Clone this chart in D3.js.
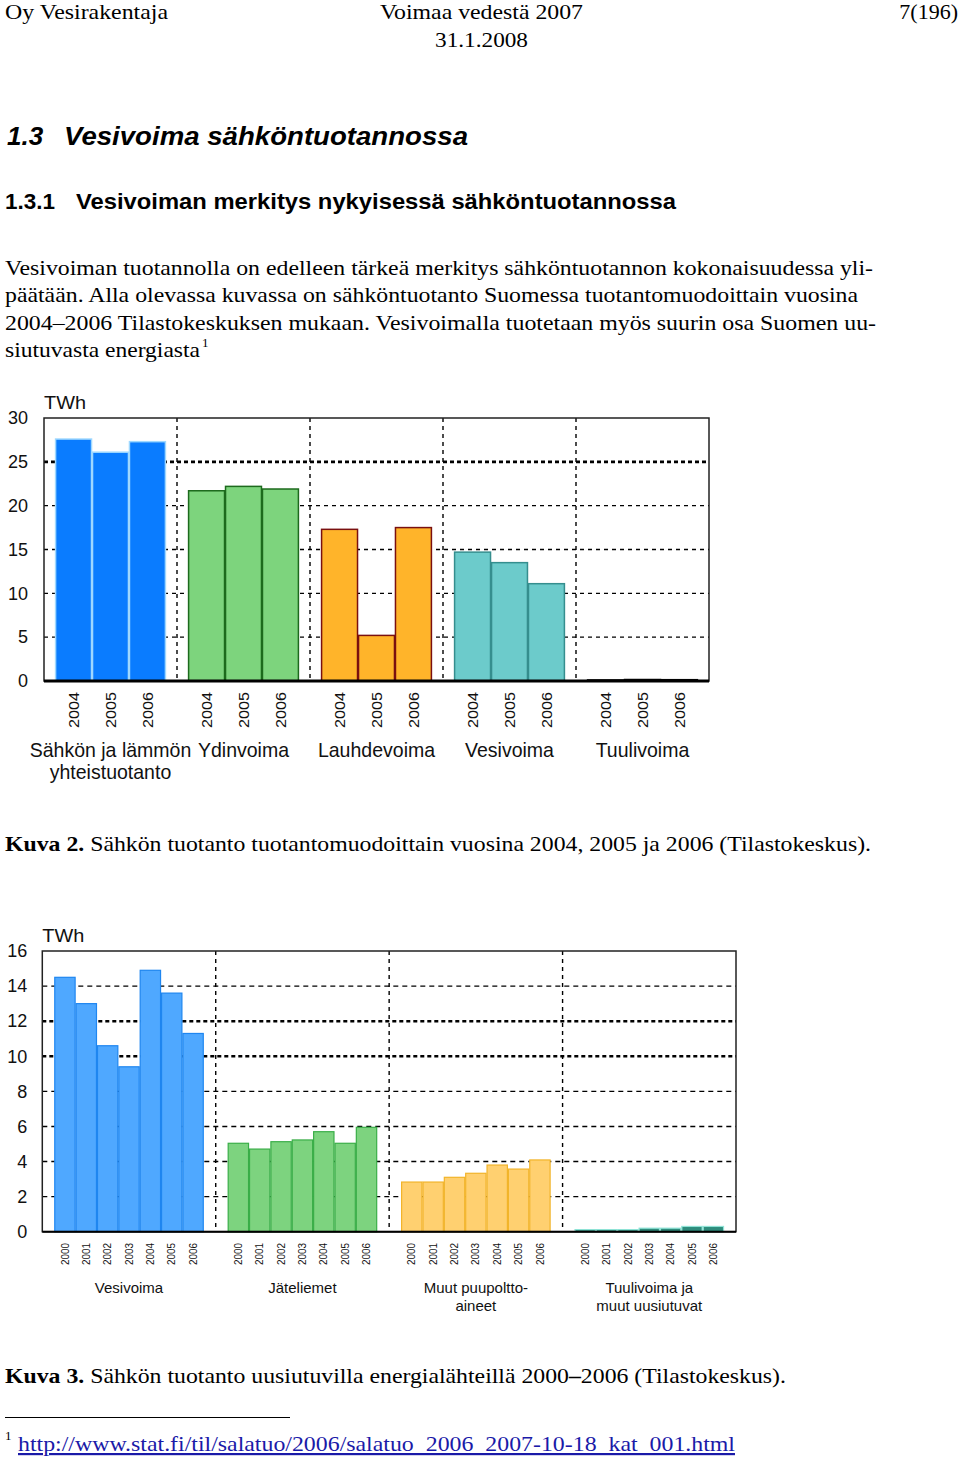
<!DOCTYPE html>
<html><head><meta charset="utf-8">
<script src="https://cdn.jsdelivr.net/npm/d3@7"></script>
<style>body{margin:0;background:#fff}svg{display:block}</style>
</head><body>
<script>
// ---- Data: Kuva 2 ----
const cats1 = [["Sähkön ja lämmön","yhteistuotanto"],["Ydinvoima"],["Lauhdevoima"],["Vesivoima"],["Tuulivoima"]];
const years1 = ["2004","2005","2006"];
const chp1 = [27.6, 26.1, 27.3];
const nuclear1 = [21.7, 22.2, 21.9];
const condensing1 = [17.3, 5.2, 17.5];
const hydro1 = [14.7, 13.5, 11.1];
const wind1 = [0.12, 0.17, 0.15];
const yTicks1 = [0,5,10,15,20,25,30];

// ---- Data: Kuva 3 ----
const cats2 = [["Vesivoima"],["Jäteliemet"],["Muut puupoltto-","aineet"],["Tuulivoima ja","muut uusiutuvat"]];
const years2 = ["2000","2001","2002","2003","2004","2005","2006"];
const hydro2 = [14.5, 13.0, 10.6, 9.4, 14.9, 13.6, 11.3];
const blackLiquor2 = [5.04, 4.71, 5.13, 5.23, 5.70, 5.04, 5.95];
const otherWood2 = [2.83, 2.83, 3.10, 3.33, 3.80, 3.57, 4.09];
const windOther2 = [0.12, 0.12, 0.12, 0.2, 0.2, 0.3, 0.3];
const yTicks2 = [0,2,4,6,8,10,12,14,16];

const W = 960, H = 1459;
const svg = d3.select("body").append("svg").attr("width", W).attr("height", H);
const serif = "'Liberation Serif','Times New Roman',serif";
const sans = "'Liberation Sans',Arial,sans-serif";

// ---- page text ----
function t(x,y,str,opt={}){
  const e = svg.append("text").attr("x",x).attr("y",y).text(str)
    .attr("font-family",opt.family||serif).attr("font-size",opt.size||22)
    .attr("fill",opt.fill||"#000");
  if(opt.anchor) e.attr("text-anchor",opt.anchor);
  if(opt.weight) e.attr("font-weight",opt.weight);
  if(opt.style) e.attr("font-style",opt.style);
  if(opt.len) e.attr("textLength",opt.len).attr("lengthAdjust",opt.adj||"spacingAndGlyphs");
  return e;
}
t(5,19,"Oy Vesirakentaja",{len:163});
t(380,19,"Voimaa vedestä 2007",{len:203});
t(958,19,"7(196)",{anchor:"end"});
t(435,47,"31.1.2008",{len:93});

t(7,145,"1.3",{family:sans,size:26,weight:"bold",style:"italic"});
t(64,145,"Vesivoima sähköntuotannossa",{family:sans,size:26,weight:"bold",style:"italic",len:404});
t(5,209,"1.3.1",{family:sans,size:22,weight:"bold",len:50});
t(76,209,"Vesivoiman merkitys nykyisessä sähköntuotannossa",{family:sans,size:22,weight:"bold",len:600});

t(5,275,"Vesivoiman tuotannolla on edelleen tärkeä merkitys sähköntuotannon kokonaisuudessa yli-",{len:868});
t(5,302,"päätään. Alla olevassa kuvassa on sähköntuotanto Suomessa tuotantomuodoittain vuosina",{len:853});
t(5,330,"2004–2006 Tilastokeskuksen mukaan. Vesivoimalla tuotetaan myös suurin osa Suomen uu-",{len:871});
t(5,357,"siutuvasta energiasta",{len:195});
t(202,347,"1",{size:13});

const cap2 = svg.append("text").attr("x",5).attr("y",851).attr("font-family",serif).attr("font-size",22)
  .attr("textLength",866).attr("lengthAdjust","spacingAndGlyphs");
cap2.append("tspan").attr("font-weight","bold").text("Kuva 2.");
cap2.append("tspan").text(" Sähkön tuotanto tuotantomuodoittain vuosina 2004, 2005 ja 2006 (Tilastokeskus).");
const cap3 = svg.append("text").attr("x",5).attr("y",1383).attr("font-family",serif).attr("font-size",22)
  .attr("textLength",781).attr("lengthAdjust","spacingAndGlyphs");
cap3.append("tspan").attr("font-weight","bold").text("Kuva 3.");
cap3.append("tspan").text(" Sähkön tuotanto uusiutuvilla energialähteillä 2000");
cap3.append("tspan").attr("font-weight","bold").text("–");
cap3.append("tspan").text("2006 (Tilastokeskus).");

svg.append("line").attr("x1",5).attr("x2",290).attr("y1",1417.5).attr("y2",1417.5).attr("stroke","#000").attr("stroke-width",1);
t(5,1440,"1",{size:13});
t(18,1451,"http://www.stat.fi/til/salatuo/2006/salatuo_2006_2007-10-18_kat_001.html",{fill:"#1a1aa8",len:717})
  .attr("text-decoration","underline");

// ---- generic chart ----
function chart(cfg){
  const g = svg.append("g");
  const x = d3.scaleBand().domain(d3.range(cfg.cats.length)).range([cfg.left,cfg.right]).padding(0);
  const xi = d3.scaleBand().domain(cfg.years).range([0,x.bandwidth()]).paddingInner(0).paddingOuter(cfg.outer);
  const y = d3.scaleLinear().domain([0,cfg.max]).range([cfg.bottom,cfg.top]);

  cfg.ticks.filter(v=>v>0 && v<cfg.max).forEach(v=>{
    const thick = cfg.thick.includes(v);
    g.append("line").attr("x1",cfg.left).attr("x2",cfg.right).attr("y1",y(v)).attr("y2",y(v))
      .attr("stroke","#000").attr("stroke-width",thick?2.6:1.4)
      .attr("stroke-dasharray",thick?"4,3":cfg.dash);
  });
  d3.range(1,cfg.cats.length).forEach(i=>{
    g.append("line").attr("x1",x(i)).attr("x2",x(i)).attr("y1",cfg.top).attr("y2",cfg.bottom)
      .attr("stroke","#000").attr("stroke-width",1.4).attr("stroke-dasharray","4,4");
  });
  cfg.series.forEach((vals,i)=>{
    g.append("g").selectAll("rect").data(vals).join("rect")
      .attr("x",(d,j)=>x(i)+xi(cfg.years[j])+0.5)
      .attr("width",xi.bandwidth()-1)
      .attr("y",d=>y(d))
      .attr("height",d=>cfg.bottom-y(d))
      .attr("fill",cfg.fills[i]).attr("stroke",cfg.strokes[i]).attr("stroke-width",cfg.sw);
  });
  g.append("rect").attr("x",cfg.left).attr("y",cfg.top).attr("width",cfg.right-cfg.left).attr("height",cfg.bottom-cfg.top)
    .attr("fill","none").attr("stroke","#222").attr("stroke-width",1.5);
  g.append("line").attr("x1",cfg.left).attr("x2",cfg.right).attr("y1",cfg.bottom).attr("y2",cfg.bottom)
    .attr("stroke","#000").attr("stroke-width",cfg.baseW);

  const ax = g.append("g").attr("transform",`translate(${cfg.left},0)`)
    .call(d3.axisLeft(y).tickValues(cfg.ticks).tickSize(0).tickPadding(cfg.tickPad).tickFormat(d3.format("d")));
  ax.select(".domain").remove();
  ax.selectAll("text").attr("font-family",sans).attr("font-size",cfg.tickSize).attr("fill","#111");
  g.append("text").attr("x",cfg.left).attr("y",cfg.top-9).text("TWh")
    .attr("font-family",sans).attr("font-size",cfg.tickSize).attr("fill","#111")
    .attr("textLength",42).attr("lengthAdjust","spacingAndGlyphs");

  cfg.cats.forEach((c,i)=>{
    cfg.years.forEach(yr=>{
      const cx = x(i)+xi(yr)+xi.bandwidth()/2;
      g.append("text").attr("transform",`translate(${cx+cfg.yearSize*0.36},${cfg.yearTop}) rotate(-90)`)
        .attr("text-anchor","end").text(yr)
        .attr("font-family",sans).attr("font-size",cfg.yearSize).attr("fill","#111")
        .attr("textLength",cfg.yearLen).attr("lengthAdjust","spacingAndGlyphs");
    });
    c.forEach((line,k)=>{
      const cx = x(i)+x.bandwidth()/2;
      g.append("text").attr("x",cx).attr("y",cfg.catY+k*cfg.catGap)
        .attr("text-anchor","middle").text(line)
        .attr("font-family",sans).attr("font-size",cfg.catSize).attr("fill","#111")
        .attr("transform",`translate(${cx*(1-cfg.catScale)},0) scale(${cfg.catScale},1)`);
    });
  });
}

chart({
  cats:cats1, years:years1, series:[chp1,nuclear1,condensing1,hydro1,wind1],
  left:44, right:709, top:418, bottom:681, max:30, ticks:yTicks1, thick:[25], dash:"4,4",
  outer:0.3, sw:1.5, baseW:3,
  fills:["#0a7cff","#7dd47d","#ffb42a","#6ccbcb","#111"],
  strokes:["#9fd8ff","#1d6a1d","#7a1010","#358e8e","#000"],
  tickPad:16, tickSize:18, yearTop:692, yearSize:15, yearLen:36,
  catY:757, catGap:22, catSize:21, catScale:0.93
});

chart({
  cats:cats2, years:years2, series:[hydro2,blackLiquor2,otherWood2,windOther2],
  left:42.3, right:736, top:951, bottom:1231.7, max:16, ticks:yTicks2, thick:[10,12], dash:"5,4",
  outer:0.56, sw:1.2, baseW:2,
  fills:["#4fa8ff","#7dd37f","#ffd070","#2e8c7c"],
  strokes:["#1f86f0","#3aae48","#f2b42a","#8fe3d6"],
  tickPad:15, tickSize:18, yearTop:1243, yearSize:10, yearLen:22,
  catY:1293, catGap:18, catSize:15, catScale:1
});
</script>
</body></html>
